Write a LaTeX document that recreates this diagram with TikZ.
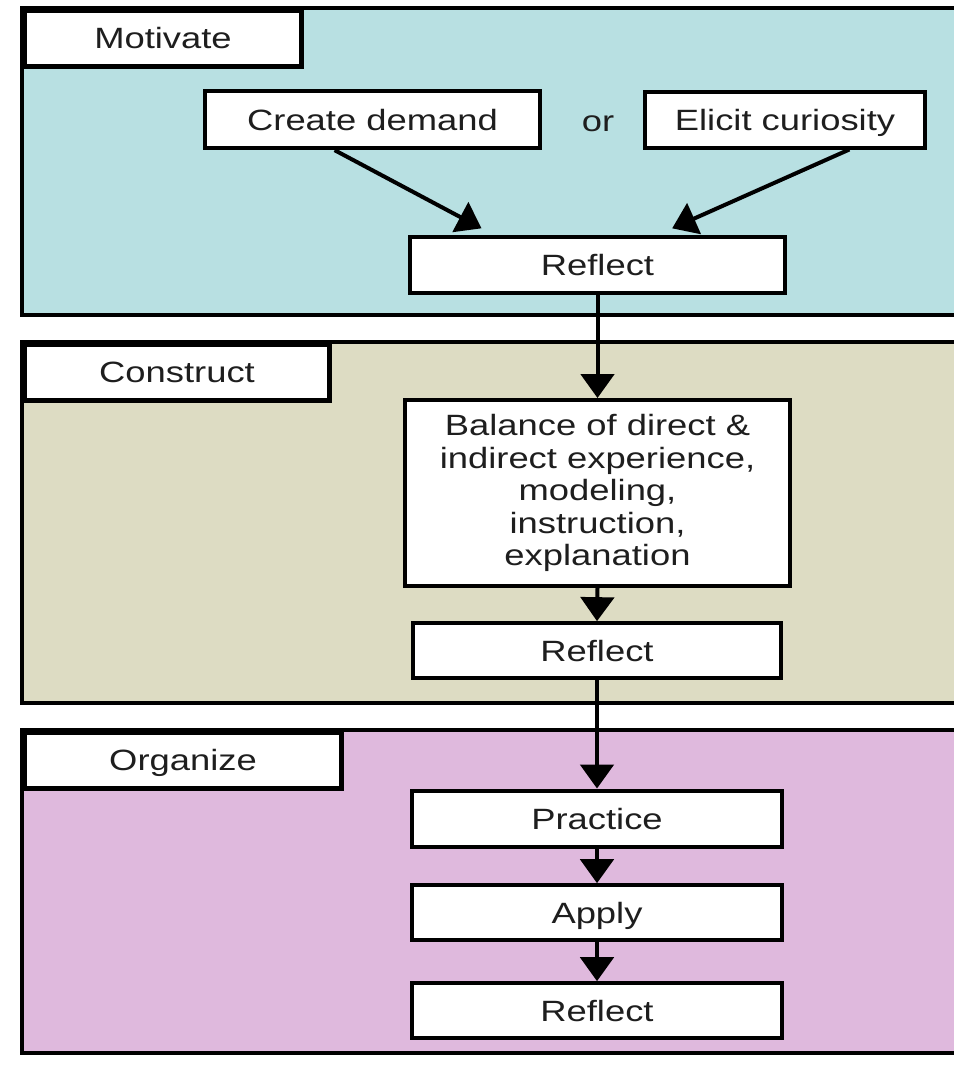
\documentclass[tikz,border=0pt]{standalone}
\usepackage{fontspec}
\setmainfont{Liberation Sans}[FakeStretch=1.24]
\usetikzlibrary{arrows.meta,positioning}

\definecolor{motivbg}{RGB}{184,224,226}
\definecolor{constrbg}{RGB}{221,220,195}
\definecolor{organbg}{RGB}{223,185,221}
\definecolor{inktext}{RGB}{30,30,30}

\newcommand{\stagefont}{\fontsize{22}{24.4}\selectfont}

\tikzset{
    panel/.style={draw, line width=3.5pt},
    oneline/.style={text height=17.5pt, text depth=1.7pt},
    tab/.style={draw, fill=white, line width=3.5pt, anchor=north west, inner sep=0pt,
        minimum height=42pt, oneline, text=inktext, font=\stagefont},
    stepbox/.style={draw, fill=white, line width=3pt, inner sep=0pt, align=center,
        text=inktext, font=\stagefont},
    flow/.style={line width=3pt, -{Triangle[width=25pt, length=18pt]}}
}

\begin{document}
\begin{tikzpicture}[x=0.75pt, y=-0.75pt]
    \useasboundingbox (0, 0) rectangle (954, 1065);
    \clip (0, 0) rectangle (954, 1065);
    \fill[white] (0, 0) rectangle (954, 1065);

    % the three stages
    \draw[panel, fill=motivbg] (22, 8) rectangle (990, 315);
    \draw[panel, fill=constrbg] (22, 342) rectangle (990, 703);
    \draw[panel, fill=organbg] (22, 730) rectangle (990, 1053);
    \node[tab, minimum width=208pt] (motivate) at (22, 8) {Motivate};
    \node[tab, minimum width=229pt] (construct) at (22, 342) {Construct};
    \node[tab, minimum width=238pt] (organize) at (22, 730) {Organize};

    % motivate
    \node[stepbox, oneline, minimum width=251pt, minimum height=43pt] (demand) at (372.5, 119.5) {Create demand};
    \node[stepbox, oneline, minimum width=210pt, minimum height=42pt] (curious) at (785, 119.5) {Elicit curiosity};
    \node[oneline, text=inktext, font=\stagefont] (or) at (598, 121) {or};
    \node[stepbox, oneline, minimum width=281pt, minimum height=42pt] (reflectA) at (597.5, 265) {Reflect};

    % construct
    \node[stepbox, minimum width=289pt, minimum height=139.5pt] (balance) at (597.5, 493)
        {Balance of direct \&\\indirect experience,\\modeling,\\instruction,\\explanation};
    \node[stepbox, oneline, minimum width=276pt, minimum height=41pt] (reflectB) at (597, 650.5) {Reflect};

    % organize
    \node[stepbox, oneline, minimum width=277pt, minimum height=42pt] (practice) at (597, 818.5) {Practice};
    \node[stepbox, oneline, minimum width=277pt, minimum height=41pt] (apply) at (597, 912.5) {Apply};
    \node[stepbox, oneline, minimum width=277pt, minimum height=41pt] (reflectC) at (597, 1010.5) {Reflect};

    \draw[flow] (demand.219) -- ([xshift=55pt, yshift=5pt]reflectA.north west);
    \draw[flow] (curious.335) -- ([xshift=-86pt, yshift=5pt]reflectA.north east);
    \draw[flow] (reflectA.south) -- (balance.north);
    \draw[flow] (balance.south) -- (reflectB.north);
    \draw[flow] (reflectB.south) -- (practice.north);
    \draw[flow] (practice.south) -- (apply.north);
    \draw[flow] (apply.south) -- (reflectC.north);
\end{tikzpicture}
\end{document}
